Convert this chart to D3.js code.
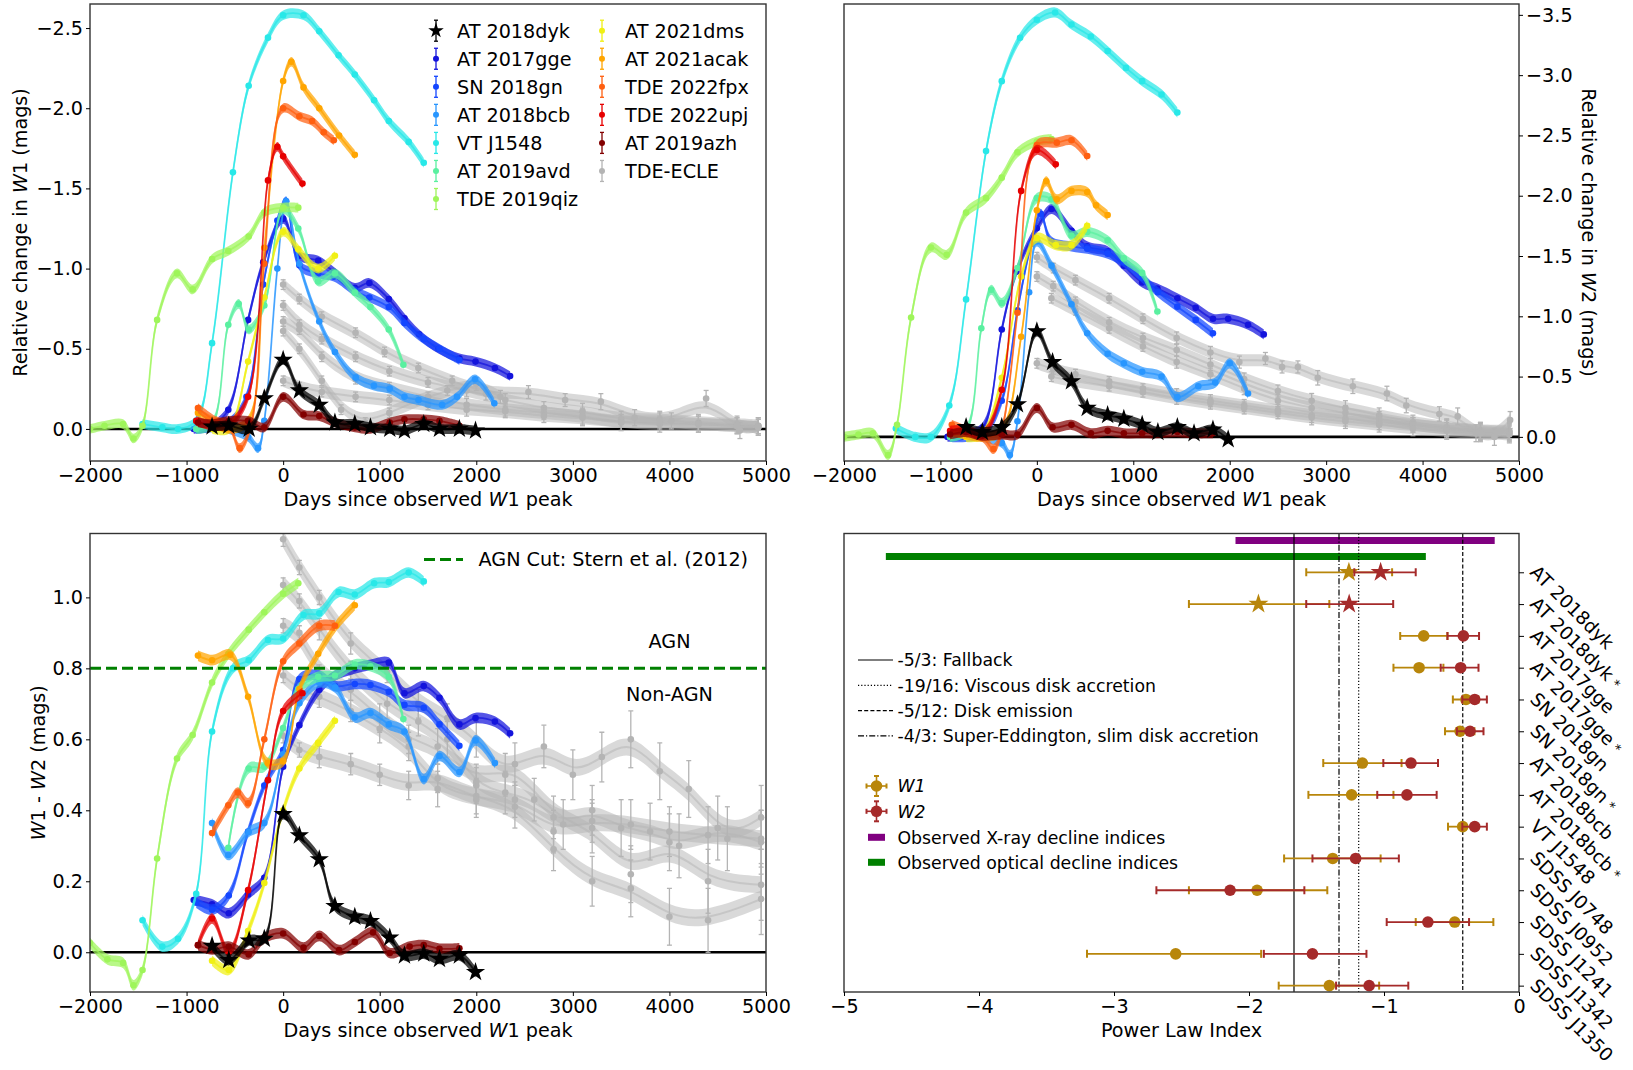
<!DOCTYPE html>
<html>
<head>
<meta charset="utf-8">
<script src="https://cdnjs.cloudflare.com/ajax/libs/d3/7.8.5/d3.min.js"></script>
<style>
  body { margin: 0; background: #fff; }
  text { font-family: "DejaVu Sans", sans-serif; fill: #000; }
</style>
</head>
<body>
<svg id="fig" width="1633" height="1070"></svg>
<script>
// ---- light curves: [days since W1 peak, value, (error)] ----
var dyk_w1 = [[-736,-0.015],[-563,-0.02],[-352,0],[-195,-0.19],[0,-0.43],[168,-0.24],[374,-0.15],[536,-0.04],[742,-0.03],[904,-0.01],[1104,0],[1256,0.01],[1456,-0.03],[1619,0],[1825,0],[1992,0.01]];
var dyk_w2 = [[-734,-0.08],[-565,-0.04],[-364,-0.08],[-201,-0.27],[0,-0.875],[163,-0.62],[359,-0.46],[522,-0.24],[734,-0.18],[902,-0.15],[1092,-0.10],[1255,-0.04],[1457,-0.08],[1630,-0.03],[1826,-0.06],[1984,0.02]];
var dyk_col = [[-736,0.018],[-563,-0.022],[-352,0.033],[-195,0.038],[0,0.389],[168,0.329],[374,0.262],[536,0.13],[742,0.10],[904,0.088],[1104,0.041],[1256,-0.009],[1456,-0.004],[1619,-0.019],[1825,-0.009],[1992,-0.056]];

var gge_w1 = [[-926,0],[-736,-0.02],[-568,-0.12],[-363,-0.68],[-206,-1.04],[0,-1.31],[168,-1.08],[363,-1.05],[525,-0.98],[742,-0.88],[893,-0.91],[1094,-0.81],[1256,-0.69],[1408,-0.59],[1608,-0.5],[1825,-0.44],[1992,-0.42],[2193,-0.38],[2350,-0.33]];
var gge_w2 = [[-926,0],[-736,-0.02],[-560,-0.08],[-364,-0.89],[-212,-1.37],[0,-1.73],[152,-1.89],[359,-1.71],[522,-1.58],[734,-1.54],[902,-1.42],[1092,-1.28],[1250,-1.23],[1457,-1.15],[1647,-1.07],[1826,-0.98],[1984,-0.98],[2190,-0.93],[2353,-0.85]];
var gge_col = [[-926,0.147],[-736,0.135],[-563,0.11],[-363,0.163],[-195,0.21],[0,0.523],[168,0.64],[374,0.74],[536,0.78],[742,0.8],[904,0.81],[1094,0.816],[1256,0.73],[1456,0.75],[1619,0.717],[1825,0.642],[1992,0.66],[2193,0.65],[2350,0.617]];

var gn_w1 = [[-900,0],[-560,-0.04],[-380,-0.2],[-206,-0.9],[-60,-1.3],[30,-1.42],[168,-1.02],[363,-0.97],[525,-0.95],[742,-0.86],[893,-0.82],[1094,-0.76],[1256,-0.66],[1456,-0.56],[1619,-0.5],[1825,-0.43]];
var gn_w2 = [[-900,0],[-560,-0.03],[-364,-0.3],[-201,-1.05],[-60,-1.6],[40,-1.85],[152,-1.62],[359,-1.58],[522,-1.56],[734,-1.52],[902,-1.45],[1092,-1.32],[1255,-1.2],[1457,-1.08],[1647,-0.97],[1826,-0.86]];
var gn_col = [[-900,0.14],[-736,0.12],[-563,0.16],[-363,0.34],[-195,0.47],[0,0.57],[168,0.77],[374,0.78],[536,0.75],[742,0.756],[904,0.753],[1094,0.734],[1256,0.697],[1456,0.689],[1619,0.642],[1825,0.582]];

var bcb_w1 = [[-900,0],[-736,-0.03],[-568,0],[-363,0.05],[-260,0.12],[-195,-0.05],[-60,-1.0],[30,-1.42],[168,-1.03],[374,-0.67],[536,-0.48],[752,-0.32],[940,-0.27],[1104,-0.25],[1256,-0.2],[1402,-0.18],[1646,-0.15],[1800,-0.2],[1987,-0.31],[2187,-0.16]];
var bcb_w2 = [[-900,0],[-736,-0.03],[-560,0],[-364,0.05],[-280,0.15],[-201,-0.13],[-80,-1.2],[0,-1.62],[152,-1.42],[359,-1.1],[522,-0.86],[734,-0.69],[902,-0.61],[1092,-0.54],[1293,-0.5],[1457,-0.33],[1674,-0.42],[1850,-0.45],[2000,-0.61],[2190,-0.36]];
var bcb_col = [[-736,0.364],[-568,0.274],[-357,0.339],[-195,0.364],[0,0.558],[168,0.702],[374,0.76],[536,0.746],[742,0.662],[904,0.674],[1094,0.642],[1256,0.622],[1456,0.488],[1619,0.553],[1825,0.508],[1992,0.597],[2193,0.533]];

var vt_w1 = [[-1456,-0.03],[-1251,-0.01],[-1088,0],[-900,-0.05],[-736,-0.535],[-520,-1.6],[-357,-2.14],[-157,-2.44],[0,-2.58],[211,-2.58],[374,-2.48],[574,-2.33],[742,-2.21],[942,-2.05],[1094,-1.92],[1300,-1.79],[1456,-1.66]];
var vt_w2 = [[-1462,-0.07],[-1261,0],[-1100,0],[-908,-0.26],[-734,-1.14],[-527,-2.37],[-364,-2.95],[-174,-3.31],[0,-3.46],[190,-3.52],[359,-3.42],[560,-3.32],[734,-3.2],[924,-3.06],[1092,-2.95],[1293,-2.84],[1457,-2.69]];
var vt_col = [[-1456,0.09],[-1251,0.016],[-1088,0.038],[-900,0.165],[-736,0.622],[-520,0.80],[-357,0.823],[-157,0.88],[0,0.884],[211,0.95],[374,0.955],[574,1.015],[742,1.008],[942,1.04],[1094,1.043],[1300,1.07],[1456,1.045]];

var avd_w1 = [[-900,0],[-736,-0.03],[-568,-0.65],[-460,-0.78],[-357,-0.62],[-195,-0.77],[0,-1.37],[157,-1.25],[363,-0.92],[536,-0.97],[742,-0.85],[904,-0.76],[1094,-0.62],[1245,-0.40]];
var avd_w2 = [[-900,0],[-736,-0.05],[-576,-0.9],[-473,-1.22],[-364,-1.11],[-201,-1.4],[0,-1.98],[152,-1.97],[359,-1.67],[522,-1.7],[734,-1.63],[902,-1.48],[1092,-1.36],[1250,-1.04]];
var avd_col = [[-568,0.294],[-357,0.518],[-195,0.523],[0,0.632],[157,0.742],[363,0.776],[536,0.78],[742,0.811],[904,0.806],[1094,0.776],[1245,0.657]];

var qiz_w1 = [[-2000,0],[-1850,-0.02],[-1657,-0.03],[-1550,0.06],[-1456,-0.02],[-1305,-0.68],[-1099,-0.97],[-937,-0.87],[-736,-1.06],[-568,-1.11],[-357,-1.2],[-195,-1.35],[0,-1.38],[157,-1.38]];
var qiz_w2 = [[-2000,0],[-1850,-0.02],[-1700,-0.03],[-1543,0.15],[-1450,-0.1],[-1304,-0.99],[-1098,-1.57],[-935,-1.51],[-734,-1.86],[-527,-1.98],[-364,-2.15],[-201,-2.36],[0,-2.45],[152,-2.47]];
var qiz_col = [[-2000,0.026],[-1820,-0.02],[-1657,-0.03],[-1550,-0.093],[-1456,-0.05],[-1305,0.264],[-1099,0.546],[-937,0.612],[-736,0.76],[-568,0.84],[-357,0.909],[-195,0.958],[0,1.01],[157,1.04]];

var dms_w1 = [[-736,0],[-563,0],[-363,-0.42],[-195,-0.82],[0,-1.23],[157,-1.12],[363,-1.0],[536,-1.08]];
var dms_w2 = [[-734,0],[-565,-0.02],[-364,-0.49],[-163,-1.33],[0,-1.65],[196,-1.59],[359,-1.59],[522,-1.75]];
var dms_col = [[-736,-0.024],[-563,-0.05],[-363,0.06],[-195,0.195],[0,0.4],[168,0.518],[363,0.59],[536,0.652]];

var acak_w1 = [[-882,-0.1],[-736,-0.05],[-560,0],[-363,-0.05],[-195,-1.13],[0,-2.17],[85,-2.29],[211,-2.13],[374,-2.0],[579,-1.83],[742,-1.71]];
var acak_w2 = [[-882,-0.05],[-734,-0.02],[-565,0],[-364,-0.05],[-163,-0.83],[0,-1.88],[98,-2.12],[207,-1.97],[359,-2.04],[522,-2.03],[614,-1.92],[734,-1.84]];
var acak_col = [[-882,0.836],[-736,0.823],[-547,0.838],[-363,0.72],[-157,0.533],[0,0.538],[168,0.742],[363,0.841],[550,0.92],[742,0.978]];

var fpx_w1 = [[-882,-0.13],[-700,-0.05],[-560,-0.02],[-450,0.12],[-330,-0.03],[-195,-1.03],[0,-2.0],[168,-1.95],[300,-1.92],[420,-1.85],[525,-1.8]];
var fpx_w2 = [[-882,-0.1],[-734,-0.05],[-565,0],[-450,0.1],[-364,-0.05],[-201,-1.03],[0,-2.42],[207,-2.44],[359,-2.46],[522,-2.33]];
var fpx_col = [[-736,0.336],[-568,0.414],[-470,0.45],[-363,0.42],[-195,0.6],[0,0.82],[168,0.87],[374,0.92],[536,0.92]];

var upj_w1 = [[-900,-0.05],[-740,-0.02],[-560,-0.03],[-363,-0.2],[-157,-1.55],[-60,-1.76],[0,-1.70],[200,-1.53]];
var upj_w2 = [[-900,-0.05],[-734,-0.06],[-565,-0.02],[-364,-0.39],[-163,-2.04],[0,-2.38],[196,-2.26]];
var upj_col = [[-882,0.02],[-736,0.095],[-563,0],[-363,0.175],[-157,0.485],[0,0.68],[200,0.73]];

var azh_w1 = [[-882,-0.04],[-736,-0.03],[-563,-0.05],[-363,-0.05],[-195,-0.01],[0,-0.2],[211,-0.09],[374,-0.08],[536,-0.04],[742,-0.01],[904,0],[1104,-0.04],[1256,-0.06],[1456,-0.06],[1619,-0.05],[1825,-0.02]];
var azh_w2 = [[-900,-0.02],[-734,-0.04],[-565,-0.01],[-364,-0.02],[-201,-0.02],[0,-0.24],[163,-0.08],[359,-0.1],[560,-0.03],[734,-0.05],[902,-0.03],[1092,-0.03],[1255,-0.03],[1457,-0.04],[1630,-0.03],[1826,-0.03]];
var azh_col = [[-882,0.02],[-736,0.008],[-563,0.016],[-357,-0.006],[-195,0.04],[0,0.053],[211,0.013],[374,0.046],[579,0.006],[742,0.029],[931,0.056],[1104,-0.002],[1310,0.016],[1456,0.02],[1619,0.01],[1825,0.011]];

// TDE-ECLE sample (five objects)
var ecle1_w1 = [[0,-0.9,0.03],[168,-0.81,0.03],[400,-0.7,0.03],[750,-0.6,0.03],[1050,-0.48,0.03],[1400,-0.38,0.03],[1750,-0.3,0.03],[2100,-0.22,0.04],[2540,-0.23,0.04],[2920,-0.18,0.04],[3290,-0.17,0.05],[3640,-0.07,0.05],[4020,-0.05,0.05],[4380,-0.19,0.05],[4730,0.01,0.05],[4920,-0.02,0.05]];
var ecle2_w1 = [[0,-0.77,0.03],[168,-0.65,0.03],[400,-0.56,0.03],[750,-0.45,0.03],[1100,-0.36,0.03],[1500,-0.29,0.03],[1900,-0.24,0.04],[2300,-0.18,0.04],[2700,-0.13,0.04],[3100,-0.11,0.05],[3500,-0.06,0.05],[3900,-0.06,0.05],[4300,-0.04,0.05],[4700,-0.03,0.05],[4920,-0.02,0.05]];
var ecle3_w1 = [[0,-0.67,0.03],[168,-0.62,0.03],[400,-0.45,0.03],[750,-0.31,0.03],[1100,-0.26,0.03],[1500,-0.2,0.03],[1900,-0.15,0.04],[2300,-0.12,0.04],[2700,-0.1,0.04],[3100,-0.08,0.05],[3500,-0.04,0.05],[3900,-0.03,0.05],[4300,-0.03,0.05],[4700,-0.02,0.05],[4920,-0.01,0.05]];
var ecle4_w1 = [[0,-0.61,0.03],[168,-0.5,0.03],[400,-0.3,0.03],[600,-0.12,0.03],[850,-0.04,0.03],[1100,-0.1,0.03],[1400,-0.18,0.03],[1700,-0.24,0.03],[2000,-0.28,0.04],[2250,-0.2,0.04]];
var ecle5_w1 = [[0,-0.3,0.03],[168,-0.26,0.03],[400,-0.23,0.03],[750,-0.2,0.03],[1100,-0.18,0.03],[1500,-0.15,0.03],[1900,-0.12,0.04],[2300,-0.11,0.04],[2700,-0.08,0.04],[3100,-0.07,0.05],[3500,-0.04,0.05],[3900,-0.05,0.05],[4300,-0.03,0.05],[4700,-0.02,0.05],[4920,-0.01,0.05]];

var ecle1_w2 = [[0,-1.49,0.04],[170,-1.4,0.04],[400,-1.3,0.04],[750,-1.15,0.04],[1100,-0.98,0.04],[1450,-0.82,0.05],[1800,-0.7,0.05],[2100,-0.62,0.05],[2370,-0.65,0.05],[2543,-0.58,0.05],[2707,-0.58,0.05],[2913,-0.49,0.06],[3277,-0.42,0.06],[3630,-0.36,0.06],[3831,-0.26,0.06],[4174,-0.19,0.06],[4364,-0.17,0.07],[4554,-0.03,0.07],[4745,0,0.07],[4908,-0.14,0.07]];
var ecle2_w2 = [[0,-1.33,0.04],[170,-1.25,0.04],[400,-1.12,0.04],[750,-0.95,0.04],[1100,-0.82,0.04],[1450,-0.72,0.05],[1800,-0.6,0.05],[2150,-0.48,0.05],[2500,-0.38,0.05],[2850,-0.3,0.06],[3200,-0.24,0.06],[3550,-0.18,0.06],[3900,-0.12,0.06],[4250,-0.08,0.07],[4600,-0.05,0.07],[4900,-0.05,0.07]];
var ecle3_w2 = [[150,-1.15,0.04],[400,-1.05,0.04],[750,-0.9,0.04],[1100,-0.75,0.04],[1450,-0.62,0.05],[1800,-0.52,0.05],[2150,-0.4,0.05],[2500,-0.3,0.05],[2850,-0.24,0.06],[3200,-0.2,0.06],[3550,-0.15,0.06],[3900,-0.1,0.06],[4250,-0.07,0.07],[4600,-0.04,0.07],[4900,-0.03,0.07]];
var ecle4_w2 = [[0,-0.61,0.04],[170,-0.56,0.04],[400,-0.52,0.04],[750,-0.46,0.04],[1100,-0.4,0.04],[1450,-0.35,0.05],[1800,-0.3,0.05],[2150,-0.26,0.05],[2500,-0.22,0.05],[2850,-0.18,0.06],[3200,-0.15,0.06],[3550,-0.12,0.06],[3900,-0.1,0.06],[4250,-0.07,0.07],[4600,-0.05,0.07],[4900,-0.04,0.07]];
var ecle5_w2 = [[150,-0.5,0.04],[400,-0.46,0.04],[750,-0.42,0.04],[1100,-0.37,0.04],[1450,-0.32,0.05],[1800,-0.28,0.05],[2150,-0.24,0.05],[2500,-0.2,0.05],[2850,-0.16,0.06],[3200,-0.13,0.06],[3550,-0.1,0.06],[3900,-0.07,0.06],[4250,-0.05,0.07],[4600,-0.03,0.07],[4900,-0.02,0.07]];

var ecle1_col = [[0,1.164,0.02],[168,1.084,0.02],[374,1.0,0.02],[700,0.87,0.03],[1077,0.79,0.03],[1400,0.7,0.04],[1700,0.66,0.04],[2000,0.6,0.05],[2300,0.5,0.06],[2700,0.58,0.06],[3000,0.5,0.07],[3300,0.55,0.07],[3600,0.6,0.08],[3900,0.51,0.08],[4200,0.46,0.08],[4600,0.32,0.09],[4950,0.38,0.09]];
var ecle2_col = [[0,1.035,0.02],[168,0.99,0.02],[374,0.91,0.03],[700,0.79,0.03],[1077,0.7,0.04],[1400,0.65,0.04],[1700,0.6,0.05],[2000,0.47,0.05],[2300,0.45,0.06],[2600,0.43,0.06],[2900,0.36,0.07],[3200,0.4,0.07],[3500,0.35,0.08],[3800,0.34,0.08],[4100,0.3,0.09],[4500,0.35,0.09],[4950,0.31,0.09]];
var ecle3_col = [[0,0.92,0.02],[168,0.9,0.02],[374,0.78,0.03],[700,0.74,0.03],[1000,0.66,0.04],[1300,0.6,0.04],[1600,0.58,0.05],[2000,0.48,0.05],[2400,0.53,0.06],[2800,0.38,0.06],[3200,0.35,0.07],[3600,0.22,0.08],[4000,0.31,0.08],[4400,0.2,0.09],[4950,0.19,0.1]];
var ecle4_col = [[0,0.78,0.02],[168,0.74,0.02],[374,0.72,0.03],[700,0.68,0.03],[1000,0.63,0.04],[1300,0.58,0.04],[1600,0.46,0.05],[2000,0.44,0.05],[2400,0.41,0.06],[2800,0.29,0.06],[3200,0.2,0.07],[3600,0.18,0.08],[4000,0.1,0.08],[4400,0.09,0.09],[4950,0.15,0.1]];
var ecle5_col = [[0,0.61,0.02],[168,0.57,0.02],[374,0.55,0.03],[700,0.53,0.03],[1000,0.5,0.03],[1300,0.47,0.04],[1600,0.49,0.04],[2000,0.43,0.05],[2400,0.43,0.05],[2800,0.34,0.06],[3200,0.37,0.06],[3600,0.36,0.07],[4000,0.34,0.07],[4400,0.33,0.08],[4950,0.32,0.08]];

// ---- power law fits ----
var fitNames = ["AT 2018dyk","AT 2018dyk*","AT 2017gge","AT 2017gge*","SN 2018gn","SN 2018gn*","AT 2018bcb","AT 2018bcb*","VT J1548","SDSS J0748","SDSS J0952","SDSS J1241","SDSS J1342","SDSS J1350"];
var fitW1 = [-1.26,-1.93,-0.706,-0.74,-0.393,-0.437,-1.16,-1.24,-0.417,-1.38,-1.94,-0.476,-2.543,-1.405];
var fitW1lo = [-1.576,-2.445,-0.88,-0.93,-0.49,-0.548,-1.45,-1.56,-0.526,-1.74,-2.445,-0.765,-3.2,-1.78];
var fitW1hi = [-0.94,-1.405,-0.53,-0.56,-0.3,-0.33,-0.87,-0.93,-0.31,-1.025,-1.42,-0.19,-1.91,-1.036];
var fitW2 = [-1.025,-1.258,-0.412,-0.432,-0.328,-0.363,-0.80,-0.83,-0.328,-1.21,-2.14,-0.675,-1.53,-1.11];
var fitW2lo = [-1.22,-1.576,-0.53,-0.58,-0.42,-0.46,-1.005,-1.05,-0.42,-1.53,-2.686,-0.98,-1.89,-1.355];
var fitW2hi = [-0.765,-0.932,-0.296,-0.3,-0.238,-0.263,-0.6,-0.61,-0.238,-0.89,-1.59,-0.37,-1.13,-0.82];
var xrayRange = [-2.1, -0.18];
var opticalRange = [-4.69, -0.69];
var theoryIdx = [-5/3, -19/16, -5/12, -4/3];
var theoryText = ["-5/3: Fallback", "-19/16: Viscous disk accretion", "-5/12: Disk emission", "-4/3: Super-Eddington, slim disk accretion"];
var agnCut = 0.8;

var objects = [
  {name: "AT 2018dyk", color: "#000000", w1: dyk_w1, w2: dyk_w2, col: dyk_col, star: true},
  {name: "AT 2017gge", color: "#1414dc", w1: gge_w1, w2: gge_w2, col: gge_col},
  {name: "SN 2018gn", color: "#1446ff", w1: gn_w1, w2: gn_w2, col: gn_col},
  {name: "AT 2018bcb", color: "#2896ff", w1: bcb_w1, w2: bcb_w2, col: bcb_col},
  {name: "VT J1548", color: "#28e8e8", w1: vt_w1, w2: vt_w2, col: vt_col},
  {name: "AT 2019avd", color: "#5af0a0", w1: avd_w1, w2: avd_w2, col: avd_col},
  {name: "TDE 2019qiz", color: "#9ef55a", w1: qiz_w1, w2: qiz_w2, col: qiz_col},
  {name: "AT 2021dms", color: "#f0f014", w1: dms_w1, w2: dms_w2, col: dms_col},
  {name: "AT 2021acak", color: "#ffa500", w1: acak_w1, w2: acak_w2, col: acak_col},
  {name: "TDE 2022fpx", color: "#ff5f10", w1: fpx_w1, w2: fpx_w2, col: fpx_col},
  {name: "TDE 2022upj", color: "#e60000", w1: upj_w1, w2: upj_w2, col: upj_col},
  {name: "AT 2019azh", color: "#820000", w1: azh_w1, w2: azh_w2, col: azh_col}
];
var ecles = [
  {w1: ecle1_w1, w2: ecle1_w2, col: ecle1_col},
  {w1: ecle2_w1, w2: ecle2_w2, col: ecle2_col},
  {w1: ecle3_w1, w2: ecle3_w2, col: ecle3_col},
  {w1: ecle4_w1, w2: ecle4_w2, col: ecle4_col},
  {w1: ecle5_w1, w2: ecle5_w2, col: ecle5_col}
];
var ecleColor = "#b4b4b4";
var w1Color = "#b8860b", w2Color = "#a52a2a";

var FS = 19.2, FS_LEG = 17.3;
var fig = d3.select("#fig");

var TL = {left: 90, right: 766, top: 4, bottom: 461},
    TR = {left: 844, right: 1519, top: 4, bottom: 461},
    BL = {left: 90, right: 766, top: 533.5, bottom: 992},
    BR = {left: 844, right: 1519, top: 533.5, bottom: 992};

var xTL = d3.scaleLinear().domain([-2000, 5000]).range([TL.left, TL.right]);
var xTR = d3.scaleLinear().domain([-2000, 5000]).range([TR.left, TR.right]);
var xBL = d3.scaleLinear().domain([-2000, 5000]).range([BL.left, BL.right]);
var yTL = d3.scaleLinear().domain([0.2, -2.65]).range([TL.bottom, TL.top]);
var yTR = d3.scaleLinear().domain([0.2, -3.59]).range([TR.bottom, TR.top]);
var yBL = d3.scaleLinear().domain([-0.112, 1.18]).range([BL.bottom, BL.top]);
var xBR = d3.scaleLinear().domain([-5, 0]).range([BR.left, BR.right]);
var yBR = d3.scaleLinear().domain([-1.22, 13.2]).range([BR.top, BR.bottom]);

function clipFor(id, p) {
  fig.append("clipPath").attr("id", id).append("rect")
    .attr("x", p.left).attr("y", p.top)
    .attr("width", p.right - p.left).attr("height", p.bottom - p.top);
  return fig.append("g").attr("clip-path", "url(#" + id + ")");
}

function richText(parent, parts) {
  var t = parent.append("text");
  parts.forEach(function (p) {
    var s = t.append("tspan").text(p[0]);
    if (p[1]) s.attr("font-style", "italic");
  });
  return t;
}

// smoothed band with a thin centre line
function band(g, pts, x, y, hw, color, opacity, curve, lw) {
  var area = d3.area()
    .x(function (d) { return x(d[0]); })
    .y0(function (d) { return y(d[1] - hw); })
    .y1(function (d) { return y(d[1] + hw); })
    .curve(curve);
  g.append("path").datum(pts).attr("d", area)
    .attr("fill", color).attr("fill-opacity", opacity);
  var line = d3.line()
    .x(function (d) { return x(d[0]); })
    .y(function (d) { return y(d[1]); })
    .curve(curve);
  g.append("path").datum(pts).attr("d", line)
    .attr("fill", "none").attr("stroke", color)
    .attr("stroke-width", lw).attr("stroke-opacity", opacity);
}

function markers(g, pts, x, y, color, star, r) {
  pts.filter(function (d) { return d.length > 2; }).forEach(function (d) {
    var cx = x(d[0]), y0 = y(d[1] - d[2]), y1 = y(d[1] + d[2]);
    g.append("line").attr("x1", cx).attr("x2", cx).attr("y1", y0).attr("y2", y1)
      .attr("stroke", color).attr("stroke-width", 1.3);
    [y0, y1].forEach(function (yy) {
      g.append("line").attr("x1", cx - 2.5).attr("x2", cx + 2.5).attr("y1", yy).attr("y2", yy)
        .attr("stroke", color).attr("stroke-width", 1.3);
    });
  });
  if (star) {
    g.selectAll(null).data(pts).enter().append("path")
      .attr("d", d3.symbol(d3.symbolStar, 115))
      .attr("transform", function (d) { return "translate(" + x(d[0]) + "," + y(d[1]) + ")"; })
      .attr("fill", color);
  } else {
    g.selectAll(null).data(pts).enter().append("circle")
      .attr("cx", function (d) { return x(d[0]); })
      .attr("cy", function (d) { return y(d[1]); })
      .attr("r", r).attr("fill", color);
  }
}

function lightPanel(id, p, x, y, key, hw, hwGrey) {
  var g = clipFor(id, p);
  g.append("line").attr("x1", p.left).attr("x2", p.right)
    .attr("y1", y(0)).attr("y2", y(0)).attr("stroke", "#000").attr("stroke-width", 2.6);
  ecles.forEach(function (e) {
    band(g, e[key], x, y, hwGrey, ecleColor, 0.5, d3.curveBasis, 2);
  });
  ecles.forEach(function (e) {
    markers(g, e[key], x, y, ecleColor, false, 3.3);
  });
  objects.slice(1).concat([objects[0]]).forEach(function (o) {
    band(g, o[key], x, y, hw, o.color, 0.72, d3.curveCatmullRom.alpha(0.5), 1.8);
    markers(g, o[key], x, y, o.color, !!o.star, 3.3);
  });
  return g;
}

function styleAxis(sel) {
  sel.select(".domain").remove();
  sel.selectAll(".tick line").attr("stroke", "#000").attr("stroke-width", 1);
  sel.selectAll(".tick text").attr("font-size", FS).attr("font-family", "DejaVu Sans").attr("fill", "#000");
}

function frame(p) {
  fig.append("rect").attr("x", p.left).attr("y", p.top)
    .attr("width", p.right - p.left).attr("height", p.bottom - p.top)
    .attr("fill", "none").attr("stroke", "#333").attr("stroke-width", 1.4);
}

function dayAxis(p, x) {
  fig.append("g").attr("transform", "translate(0," + p.bottom + ")")
    .call(d3.axisBottom(x).tickValues(d3.range(-2000, 5001, 1000))
      .tickFormat(d3.format("d")).tickSize(4).tickPadding(3))
    .call(styleAxis);
  richText(fig, [["Days since observed ", false], ["W", true], ["1 peak", false]])
    .attr("x", (p.left + p.right) / 2).attr("y", p.bottom + 45)
    .attr("text-anchor", "middle").attr("font-size", FS);
}

// ---------- W1 panel ----------
lightPanel("clipTL", TL, xTL, yTL, "w1", 0.03, 0.038);
frame(TL);
dayAxis(TL, xTL);
fig.append("g").attr("transform", "translate(" + TL.left + ",0)")
  .call(d3.axisLeft(yTL).tickValues([0, -0.5, -1, -1.5, -2, -2.5])
    .tickFormat(d3.format(".1f")).tickSize(4).tickPadding(3))
  .call(styleAxis);
richText(fig, [["Relative change in ", false], ["W", true], ["1 (mags)", false]])
  .attr("transform", "translate(20," + (TL.top + TL.bottom) / 2 + ") rotate(-90)")
  .attr("dy", "0.35em").attr("text-anchor", "middle").attr("font-size", FS);

// legend
var legendEntries = objects.map(function (o) { return {name: o.name, color: o.color, star: o.star}; })
  .concat([{name: "TDE-ECLE", color: ecleColor}]);
legendEntries.forEach(function (e, i) {
  var colIdx = i < 7 ? 0 : 1, row = i < 7 ? i : i - 7;
  var mx = colIdx ? 602 : 436, tx = colIdx ? 625 : 457, cy = 30.7 + row * 28.05;
  var lg = fig.append("g");
  lg.append("line").attr("x1", mx).attr("x2", mx).attr("y1", cy - 10.5).attr("y2", cy + 10.5)
    .attr("stroke", e.color).attr("stroke-width", 1.3);
  [cy - 10.5, cy + 10.5].forEach(function (yy) {
    lg.append("line").attr("x1", mx - 2).attr("x2", mx + 2).attr("y1", yy).attr("y2", yy)
      .attr("stroke", e.color).attr("stroke-width", 1.3);
  });
  if (e.star) {
    lg.append("path").attr("d", d3.symbol(d3.symbolStar, 75))
      .attr("transform", "translate(" + mx + "," + cy + ")").attr("fill", e.color);
  } else {
    lg.append("circle").attr("cx", mx).attr("cy", cy).attr("r", 3).attr("fill", e.color);
  }
  lg.append("text").attr("x", tx).attr("y", cy).attr("dy", "0.36em")
    .attr("font-size", FS).text(e.name);
});

// ---------- W2 panel ----------
lightPanel("clipTR", TR, xTR, yTR, "w2", 0.042, 0.05);
frame(TR);
dayAxis(TR, xTR);
fig.append("g").attr("transform", "translate(" + TR.right + ",0)")
  .call(d3.axisRight(yTR).tickValues([0, -0.5, -1, -1.5, -2, -2.5, -3, -3.5])
    .tickFormat(d3.format(".1f")).tickSize(4).tickPadding(3))
  .call(styleAxis);
richText(fig, [["Relative change in ", false], ["W", true], ["2 (mags)", false]])
  .attr("transform", "translate(1589," + (TR.top + TR.bottom) / 2 + ") rotate(90)")
  .attr("dy", "0.35em").attr("text-anchor", "middle").attr("font-size", FS);

// ---------- colour panel ----------
var gBL = lightPanel("clipBL", BL, xBL, yBL, "col", 0.015, 0.024);
gBL.append("line").attr("x1", BL.left).attr("x2", BL.right)
  .attr("y1", yBL(agnCut)).attr("y2", yBL(agnCut))
  .attr("stroke", "#008000").attr("stroke-width", 3).attr("stroke-dasharray", "11,5");
frame(BL);
dayAxis(BL, xBL);
fig.append("g").attr("transform", "translate(" + BL.left + ",0)")
  .call(d3.axisLeft(yBL).tickValues([0, 0.2, 0.4, 0.6, 0.8, 1.0])
    .tickFormat(d3.format(".1f")).tickSize(4).tickPadding(3))
  .call(styleAxis);
richText(fig, [["W", true], ["1 - ", false], ["W", true], ["2 (mags)", false]])
  .attr("transform", "translate(38," + (BL.top + BL.bottom) / 2 + ") rotate(-90)")
  .attr("dy", "0.35em").attr("text-anchor", "middle").attr("font-size", FS);
fig.append("line").attr("x1", 424).attr("x2", 463).attr("y1", 559.5).attr("y2", 559.5)
  .attr("stroke", "#008000").attr("stroke-width", 3).attr("stroke-dasharray", "11,5");
fig.append("text").attr("x", 478.5).attr("y", 559.5).attr("dy", "0.36em")
  .attr("font-size", FS).text("AGN Cut: Stern et al. (2012)");
fig.append("text").attr("x", 669.5).attr("y", 640.6).attr("dy", "0.36em")
  .attr("text-anchor", "middle").attr("font-size", FS).text("AGN");
fig.append("text").attr("x", 669.5).attr("y", 694.5).attr("dy", "0.36em")
  .attr("text-anchor", "middle").attr("font-size", FS).text("Non-AGN");

// ---------- power law panel ----------
var gBR = clipFor("clipBR", BR);
gBR.append("line").attr("x1", xBR(xrayRange[0])).attr("x2", xBR(xrayRange[1]))
  .attr("y1", yBR(-1)).attr("y2", yBR(-1)).attr("stroke", "#800080").attr("stroke-width", 7);
gBR.append("line").attr("x1", xBR(opticalRange[0])).attr("x2", xBR(opticalRange[1]))
  .attr("y1", yBR(-0.5)).attr("y2", yBR(-0.5)).attr("stroke", "#008000").attr("stroke-width", 7);
var dashes = [null, "1.2,2", "4,2.2", "6,2,1.2,2"];
theoryIdx.forEach(function (v, i) {
  gBR.append("line").attr("x1", xBR(v)).attr("x2", xBR(v)).attr("y1", BR.top).attr("y2", BR.bottom)
    .attr("stroke", "#000").attr("stroke-width", 1.2).attr("stroke-dasharray", dashes[i]);
});

function fitBar(v, lo, hi, i, color, star) {
  var yy = yBR(i);
  gBR.append("line").attr("x1", xBR(lo)).attr("x2", xBR(hi)).attr("y1", yy).attr("y2", yy)
    .attr("stroke", color).attr("stroke-width", 1.8);
  [lo, hi].forEach(function (e) {
    gBR.append("line").attr("x1", xBR(e)).attr("x2", xBR(e)).attr("y1", yy - 4).attr("y2", yy + 4)
      .attr("stroke", color).attr("stroke-width", 2);
  });
  if (star) {
    gBR.append("path").attr("d", d3.symbol(d3.symbolStar, 125))
      .attr("transform", "translate(" + xBR(v) + "," + yy + ")").attr("fill", color);
  } else {
    gBR.append("circle").attr("cx", xBR(v)).attr("cy", yy).attr("r", 5.8).attr("fill", color);
  }
}
fitNames.forEach(function (n, i) {
  fitBar(fitW1[i], fitW1lo[i], fitW1hi[i], i, w1Color, i < 2);
  fitBar(fitW2[i], fitW2lo[i], fitW2hi[i], i, w2Color, i < 2);
});
frame(BR);
fig.append("g").attr("transform", "translate(0," + BR.bottom + ")")
  .call(d3.axisBottom(xBR).tickValues([-5, -4, -3, -2, -1, 0])
    .tickFormat(d3.format("d")).tickSize(4).tickPadding(3))
  .call(styleAxis);
fig.append("text").attr("x", (BR.left + BR.right) / 2).attr("y", BR.bottom + 45)
  .attr("text-anchor", "middle").attr("font-size", FS).text("Power Law Index");
fig.append("g").attr("transform", "translate(" + BR.right + ",0)")
  .call(d3.axisRight(yBR).tickValues(d3.range(fitNames.length)).tickFormat("").tickSize(5))
  .call(styleAxis);
fitNames.forEach(function (n, i) {
  var starred = n.slice(-1) === "*";
  var t = fig.append("text")
    .attr("transform", "translate(" + (BR.right + 10) + "," + (yBR(i) + 1) + ") rotate(45)")
    .attr("font-size", 18.5);
  t.append("tspan").text(starred ? n.slice(0, -1) : n);
  if (starred) t.append("tspan").attr("dx", 5).attr("dy", -1).attr("font-size", 13).text("*");
});

// legend: theory lines
theoryText.forEach(function (s, i) {
  var cy = 660 + i * 25.3;
  fig.append("line").attr("x1", 858).attr("x2", 893).attr("y1", cy).attr("y2", cy)
    .attr("stroke", "#000").attr("stroke-width", 1.2).attr("stroke-dasharray", dashes[i]);
  fig.append("text").attr("x", 897.5).attr("y", cy).attr("dy", "0.36em")
    .attr("font-size", FS_LEG).text(s);
});
// legend: fits and observed ranges
[[w1Color, "1"], [w2Color, "2"]].forEach(function (e, i) {
  var cy = 786 + i * 25.3, mx = 876.5;
  var lg = fig.append("g");
  lg.append("line").attr("x1", mx - 10).attr("x2", mx + 10).attr("y1", cy).attr("y2", cy)
    .attr("stroke", e[0]).attr("stroke-width", 1.6);
  lg.append("line").attr("x1", mx).attr("x2", mx).attr("y1", cy - 10).attr("y2", cy + 10)
    .attr("stroke", e[0]).attr("stroke-width", 1.6);
  [-10, 10].forEach(function (o) {
    lg.append("line").attr("x1", mx + o).attr("x2", mx + o).attr("y1", cy - 2.5).attr("y2", cy + 2.5)
      .attr("stroke", e[0]).attr("stroke-width", 2);
    lg.append("line").attr("x1", mx - 2.5).attr("x2", mx + 2.5).attr("y1", cy + o).attr("y2", cy + o)
      .attr("stroke", e[0]).attr("stroke-width", 2);
  });
  lg.append("circle").attr("cx", mx).attr("cy", cy).attr("r", 5.8).attr("fill", e[0]);
  richText(fig, [["W", true], [e[1], true]]).attr("x", 897.5).attr("y", cy)
    .attr("dy", "0.36em").attr("font-size", FS_LEG);
});
[["#800080", "Observed X-ray decline indices"], ["#008000", "Observed optical decline indices"]].forEach(function (e, i) {
  var cy = 837.3 + i * 25;
  fig.append("rect").attr("x", 868).attr("y", cy - 3.5).attr("width", 17).attr("height", 7).attr("fill", e[0]);
  fig.append("text").attr("x", 897.5).attr("y", cy).attr("dy", "0.36em")
    .attr("font-size", FS_LEG).text(e[1]);
});
</script>
</body>
</html>
